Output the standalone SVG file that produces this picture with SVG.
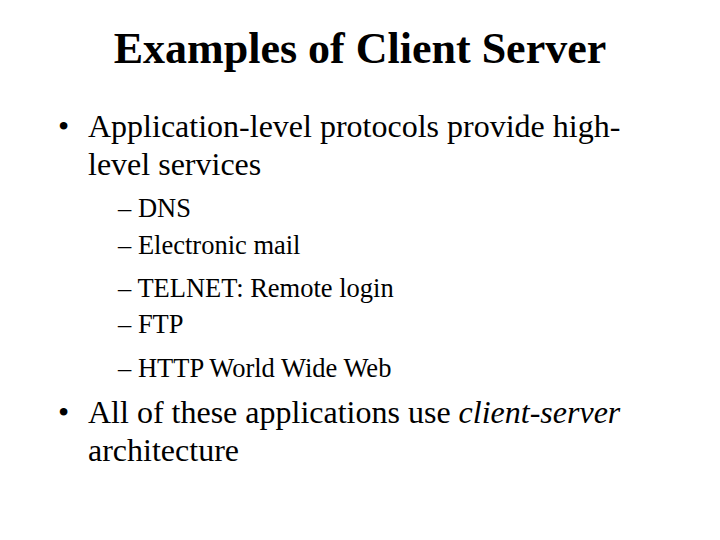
<svg xmlns="http://www.w3.org/2000/svg" width="720" height="540" viewBox="0 0 720 540">
<style>
text{font-family:"Liberation Serif","Times New Roman",serif;fill:#000}
.t{font-size:44px;font-weight:bold}
.b{font-size:32px}
.s{font-size:26.5px}
</style>
<rect width="720" height="540" fill="#fff"/>
<g id="title"><text class="t" x="360" y="63" text-anchor="middle">Examples of Client Server</text></g>
<g id="body">
<text class="b" x="58" y="137">•</text>
<text class="b" x="88" y="137">Application-level protocols provide high-</text>
<text class="b" x="88" y="175">level services</text>
<text class="s" x="118" y="217">– DNS</text>
<text class="s" x="118" y="254">– Electronic mail</text>
<text class="s" x="118" y="297">– TELNET: Remote login</text>
<text class="s" x="118" y="333">– FTP</text>
<text class="s" x="118" y="377">– HTTP World Wide Web</text>
<text class="b" x="58" y="423">•</text>
<text class="b" x="88" y="423">All of these applications use <tspan font-style="italic">client-server</tspan></text>
<text class="b" x="88" y="461">architecture</text>
</g>
</svg>
